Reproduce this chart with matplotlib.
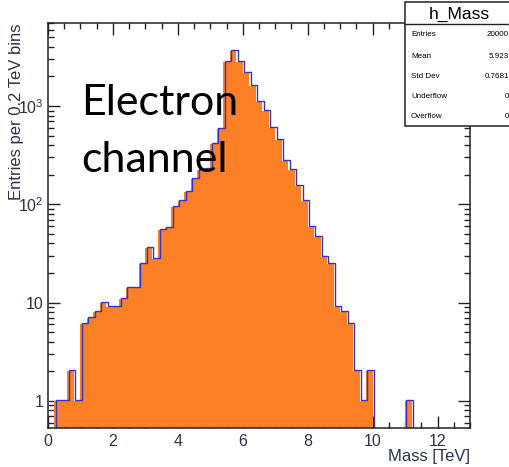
import numpy as np
import matplotlib
matplotlib.use("Agg")
import matplotlib.pyplot as plt
from matplotlib import transforms
from matplotlib.patches import Rectangle
from matplotlib.lines import Line2D
from matplotlib.ticker import MultipleLocator, LogLocator, FixedLocator, FixedFormatter, NullFormatter

# ---- histogram content: 0.2 TeV bins from 0 to 13 TeV ----
x_min, x_max = 0.0, 13.0
counts = [
    0, 1, 1, 2, 1,            # 0 - 1 TeV
    6, 7, 8, 10, 9,           # 1 - 2
    9, 11, 14, 14, 25,        # 2 - 3
    36, 28, 55, 57, 93,       # 3 - 4
    108, 132, 180, 224, 228,  # 4 - 5
    413, 580, 2800, 3650, 2790,   # 5 - 6
    2150, 1610, 1090, 885, 600,   # 6 - 7
    454, 275, 221, 153, 108,  # 7 - 8
    59, 47, 29, 25, 9,        # 8 - 9
    8, 6, 2, 1, 2,            # 9 - 10
    0, 0, 0, 0, 0,            # 10 - 11
    1, 0, 0, 0, 0,            # 11 - 12
    0, 0, 0, 0, 0,            # 12 - 13
]

y_tick_values = [1, 10, 100, 1000]
y_tick_labels = ["1", "10", r"$10^{2}$", r"$10^{3}$"]
x_tick_values = [0, 2, 4, 6, 8, 10, 12]
x_tick_labels = ["0", "2", "4", "6", "8", "10", "12"]

stats_title = "h_Mass"
stats_names = ["Entries", "Mean", "Std Dev", "Underflow", "Overflow"]
stats_values = ["20000", "5.923", "0.7681", "0", "0"]

x_title = "Mass [TeV]"
y_title = "Entries per 0.2 TeV bins"
note_lines = ["Electron", "channel"]

# ---- styling ----
fill_color = "#fd7f26"
line_color = "#3434c4"
text_color = "#2c3248"
y_lo, y_hi = 0.53, 7000
W, H = 510, 467

plt.rcParams["mathtext.fontset"] = "custom"
plt.rcParams["mathtext.rm"] = "Liberation Sans"
plt.rcParams["mathtext.it"] = "Liberation Sans"
plt.rcParams["font.family"] = ["Liberation Sans", "DejaVu Sans"]


def fx(px):
    return px / W


def fy(py):
    return 1 - py / H


fig = plt.figure(figsize=(W / 100, H / 100), dpi=100)
ax = fig.add_axes([fx(48), fy(428), fx(470) - fx(48), fy(23) - fy(428)])
ax.set_yscale("log")
ax.set_xlim(x_min, x_max)
ax.set_ylim(y_lo, y_hi)

counts_arr = np.asarray(counts, dtype=float)
edges = np.linspace(x_min, x_max, len(counts_arr) + 1)
floor = 0.3  # below the visible range so empty bins vanish
vals = np.where(counts_arr > 0, counts_arr, floor)

ax.stairs(vals, edges, baseline=floor, fill=True, color=fill_color, lw=0, zorder=2)
shifted = transforms.offset_copy(ax.transData, fig=fig, x=1.3, y=1.0, units="dots")
ax.stairs(vals, edges, baseline=floor, fill=False, color=line_color, lw=1.0,
          transform=shifted, zorder=3)

# axes and ticks
for sp in ax.spines.values():
    sp.set_linewidth(1.1)
    sp.set_color("#222222")
    sp.set_zorder(4)

ax.xaxis.set_major_locator(FixedLocator(x_tick_values))
ax.xaxis.set_major_formatter(FixedFormatter(x_tick_labels))
ax.xaxis.set_minor_locator(MultipleLocator(0.5))
ax.yaxis.set_major_locator(FixedLocator(y_tick_values))
ax.yaxis.set_major_formatter(FixedFormatter(y_tick_labels))
ax.yaxis.set_minor_locator(LogLocator(base=10, subs=np.arange(2, 10)))
ax.yaxis.set_minor_formatter(NullFormatter())

ax.tick_params(axis="both", which="both", direction="in", top=True, right=True,
               color="#222222", width=1.0, labelcolor=text_color)
ax.tick_params(which="major", length=8.5)
ax.tick_params(which="minor", length=4.5)
ax.tick_params(axis="x", which="major", labelsize=11.5, pad=4.5)
ax.tick_params(axis="y", which="major", labelsize=11.5, pad=3)
for t in ax.get_xticklines() + ax.get_yticklines():
    t.set_zorder(5)

# axis titles
fig.text(fx(470), fy(456), x_title, ha="right", va="center", fontsize=12,
         color=text_color)
fig.text(fx(17), fy(23), y_title, ha="center", va="top", rotation=90,
         fontsize=12, color=text_color)

# annotation
note_font = ["Lato", "DejaVu Sans"]
fig.text(fx(81), fy(115), note_lines[0], ha="left", va="baseline", fontsize=31,
         family=note_font, color="black")
fig.text(fx(81), fy(172), note_lines[1], ha="left", va="baseline", fontsize=31,
         family=note_font, color="black")

# statistics box
bx0, bx1, by0, by1, bsep = 405.5, 516, 2, 126, 24
fig.add_artist(Rectangle((fx(bx0), fy(by1)), fx(bx1) - fx(bx0), fy(by0) - fy(by1),
                         transform=fig.transFigure, facecolor="white",
                         edgecolor="#222222", lw=1.1, zorder=10))
fig.add_artist(Line2D([fx(bx0), fx(bx1)], [fy(bsep), fy(bsep)],
                      transform=fig.transFigure, color="#222222", lw=1.0, zorder=11))
fig.text(fx(459), fy(14), stats_title, ha="center", va="center", fontsize=12.5,
         color="black", zorder=12)
row_y = [35, 56, 76, 97, 117]
for name, val, ry in zip(stats_names, stats_values, row_y):
    fig.text(fx(411), fy(ry), name, ha="left", va="center", fontsize=5.8,
             color="black", zorder=12)
    fig.text(fx(509), fy(ry), val, ha="right", va="center", fontsize=5.8,
             color="black", zorder=12)

fig.savefig("out.png", dpi=100)
